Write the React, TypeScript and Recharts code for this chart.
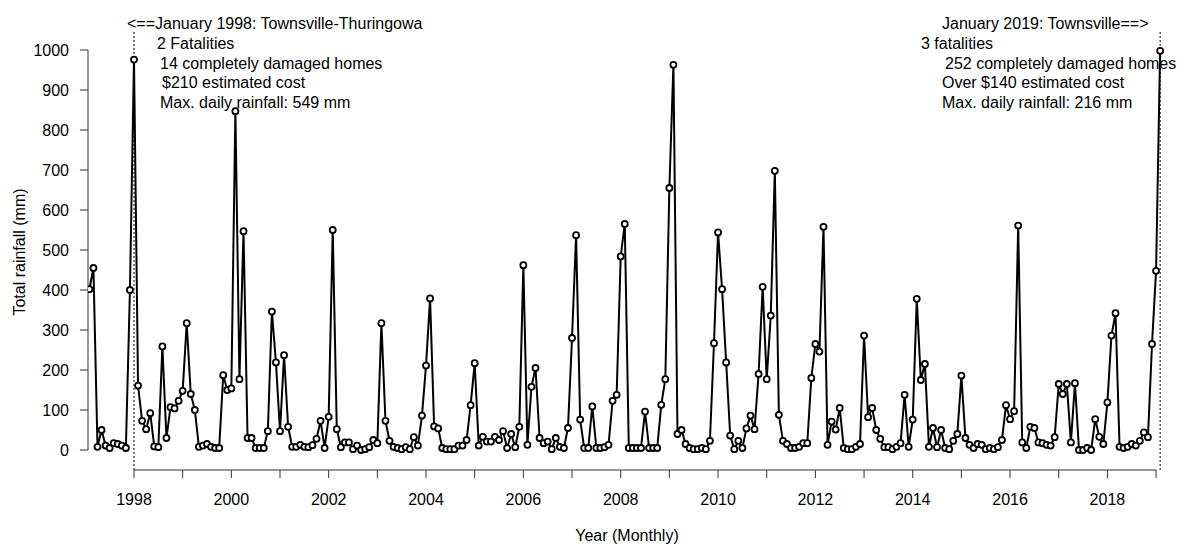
import { LineChart, Line, XAxis, YAxis, ReferenceLine } from 'recharts';

const FONT = '"Liberation Sans", Arial, Helvetica, sans-serif';

// Monthly rainfall totals (mm). 1997 starts in February, 2019 ends in February.
const rain1997 = [402, 455, 8, 50, 11, 5, 17, 15, 11, 5, 400];
const rain1998 = [976, 161, 73, 52, 92, 9, 7, 259, 30, 107, 104, 123];
const rain1999 = [148, 317, 140, 100, 8, 11, 15, 8, 5, 5, 187, 150];
const rain2000 = [154, 847, 177, 547, 30, 30, 5, 5, 5, 47, 346, 219];
const rain2001 = [47, 237, 58, 8, 8, 13, 8, 7, 12, 28, 73, 5];
const rain2002 = [83, 550, 52, 7, 19, 19, 2, 11, 0, 2, 7, 25];
const rain2003 = [17, 317, 73, 23, 8, 5, 2, 7, 2, 32, 11, 86];
const rain2004 = [211, 379, 59, 54, 5, 2, 2, 2, 11, 11, 25, 112];
const rain2005 = [217, 11, 33, 21, 21, 33, 25, 47, 5, 40, 7, 58];
const rain2006 = [462, 13, 158, 205, 30, 17, 21, 2, 30, 8, 5, 55];
const rain2007 = [280, 537, 76, 5, 5, 109, 5, 5, 7, 13, 123, 138];
const rain2008 = [484, 565, 5, 5, 5, 5, 96, 5, 5, 5, 113, 177];
const rain2009 = [655, 963, 40, 50, 15, 5, 2, 2, 5, 2, 23, 267];
const rain2010 = [544, 402, 219, 36, 2, 23, 5, 54, 86, 52, 190, 408];
const rain2011 = [177, 336, 698, 88, 23, 15, 5, 5, 8, 17, 17, 180];
const rain2012 = [265, 246, 558, 13, 71, 51, 105, 5, 2, 2, 8, 15];
const rain2013 = [286, 82, 105, 50, 28, 7, 7, 2, 8, 17, 138, 8];
const rain2014 = [76, 378, 175, 215, 8, 55, 7, 50, 5, 2, 23, 40];
const rain2015 = [186, 30, 13, 5, 15, 13, 2, 5, 2, 7, 25, 112];
const rain2016 = [77, 97, 561, 19, 5, 58, 55, 19, 17, 13, 11, 32];
const rain2017 = [165, 140, 165, 19, 167, 0, 0, 5, 0, 77, 33, 15];
const rain2018 = [119, 286, 342, 8, 5, 8, 15, 11, 23, 44, 32, 265];
const rain2019 = [448, 998];

const rainByYear: [number, number, number[]][] = [
  [1997, 2, rain1997],
  [1998, 1, rain1998],
  [1999, 1, rain1999],
  [2000, 1, rain2000],
  [2001, 1, rain2001],
  [2002, 1, rain2002],
  [2003, 1, rain2003],
  [2004, 1, rain2004],
  [2005, 1, rain2005],
  [2006, 1, rain2006],
  [2007, 1, rain2007],
  [2008, 1, rain2008],
  [2009, 1, rain2009],
  [2010, 1, rain2010],
  [2011, 1, rain2011],
  [2012, 1, rain2012],
  [2013, 1, rain2013],
  [2014, 1, rain2014],
  [2015, 1, rain2015],
  [2016, 1, rain2016],
  [2017, 1, rain2017],
  [2018, 1, rain2018],
  [2019, 1, rain2019],
];

const yearTicks = [
  1998, 1999, 2000, 2001, 2002, 2003, 2004, 2005, 2006, 2007, 2008,
  2009, 2010, 2011, 2012, 2013, 2014, 2015, 2016, 2017, 2018, 2019,
];
const rainTicks = [0, 100, 200, 300, 400, 500, 600, 700, 800, 900, 1000];

const leftNote = [
  '<==January 1998: Townsville-Thuringowa',
  '2 Fatalities',
  '14 completely damaged homes',
  '$210 estimated cost',
  'Max. daily rainfall: 549 mm',
];
const rightNote = [
  'January 2019: Townsville==>',
  '3 fatalities',
  '252 completely damaged homes',
  'Over $140 estimated cost',
  'Max. daily rainfall: 216 mm',
];

const data = rainByYear.flatMap(([year, firstMonth, values]) =>
  values.map((v, i) => ({ t: year + (firstMonth - 1 + i) / 12, rain: v }))
);
const lastT = data[data.length - 1].t;

const X_MIN = 1997.055;
const X_MAX = 2019.204;

// note rows (baselines) and left edges
const noteY = [29, 49, 68.5, 88, 107.5];
const leftX = [127, 157, 160, 162, 160];
const rightX = [942, 921, 945, 942, 942];

export default function App() {
  const tickStyle = { fontSize: 16, fill: '#000', fontFamily: FONT };
  return (
    <div
      style={{
        position: 'absolute',
        left: 0,
        top: 0,
        width: 1181,
        height: 545,
        background: '#fff',
        fontFamily: FONT,
      }}
    >
      <LineChart
        width={1181}
        height={545}
        data={data}
        margin={{ top: 30, right: 15, bottom: 30, left: 0 }}
      >
        <XAxis
          dataKey="t"
          type="number"
          domain={[X_MIN, X_MAX]}
          allowDataOverflow
          ticks={yearTicks}
          interval={0}
          tickFormatter={(y: number) => (y % 2 === 0 ? String(y) : '')}
          axisLine={false}
          tickLine={{ stroke: '#333' }}
          tickSize={8}
          tickMargin={16}
          height={45}
          tick={tickStyle}
        />
        <YAxis
          type="number"
          domain={[-50, 1050]}
          allowDataOverflow
          ticks={rainTicks}
          interval={0}
          axisLine={false}
          tickLine={{ stroke: '#333' }}
          tickSize={8}
          tickMargin={11}
          width={88}
          tick={tickStyle}
        />
        {/* R-style axis lines that only span the first to last tick */}
        <ReferenceLine
          segment={[{ x: X_MIN, y: 0 }, { x: X_MIN, y: 1000 }]}
          stroke="#333"
          ifOverflow="visible"
        />
        <ReferenceLine
          segment={[{ x: 1998, y: -50 }, { x: 2019, y: -50 }]}
          stroke="#333"
          ifOverflow="visible"
        />
        <ReferenceLine x={1998} stroke="#000" strokeDasharray="2 2" />
        <ReferenceLine x={lastT} stroke="#000" strokeDasharray="2 2" />
        <Line
          type="linear"
          dataKey="rain"
          stroke="#000"
          strokeWidth={2}
          dot={{ r: 3, stroke: '#000', strokeWidth: 1.8, fill: '#fff' }}
          isAnimationActive={false}
        />
      </LineChart>
      <svg
        width={1181}
        height={545}
        style={{ position: 'absolute', left: 0, top: 0, pointerEvents: 'none' }}
        fontFamily={FONT}
        fontSize={16}
      >
        {leftNote.map((s, i) => (
          <text key={'l' + i} x={leftX[i]} y={noteY[i]} fill="#000">
            {s}
          </text>
        ))}
        {rightNote.map((s, i) => (
          <text key={'r' + i} x={rightX[i]} y={noteY[i]} fill="#000">
            {s}
          </text>
        ))}
        <text x={627} y={541} textAnchor="middle" fill="#000">
          Year (Monthly)
        </text>
        <text x={25} y={252} textAnchor="middle" fill="#000" transform="rotate(-90 25 252)">
          Total rainfall (mm)
        </text>
      </svg>
    </div>
  );
}
